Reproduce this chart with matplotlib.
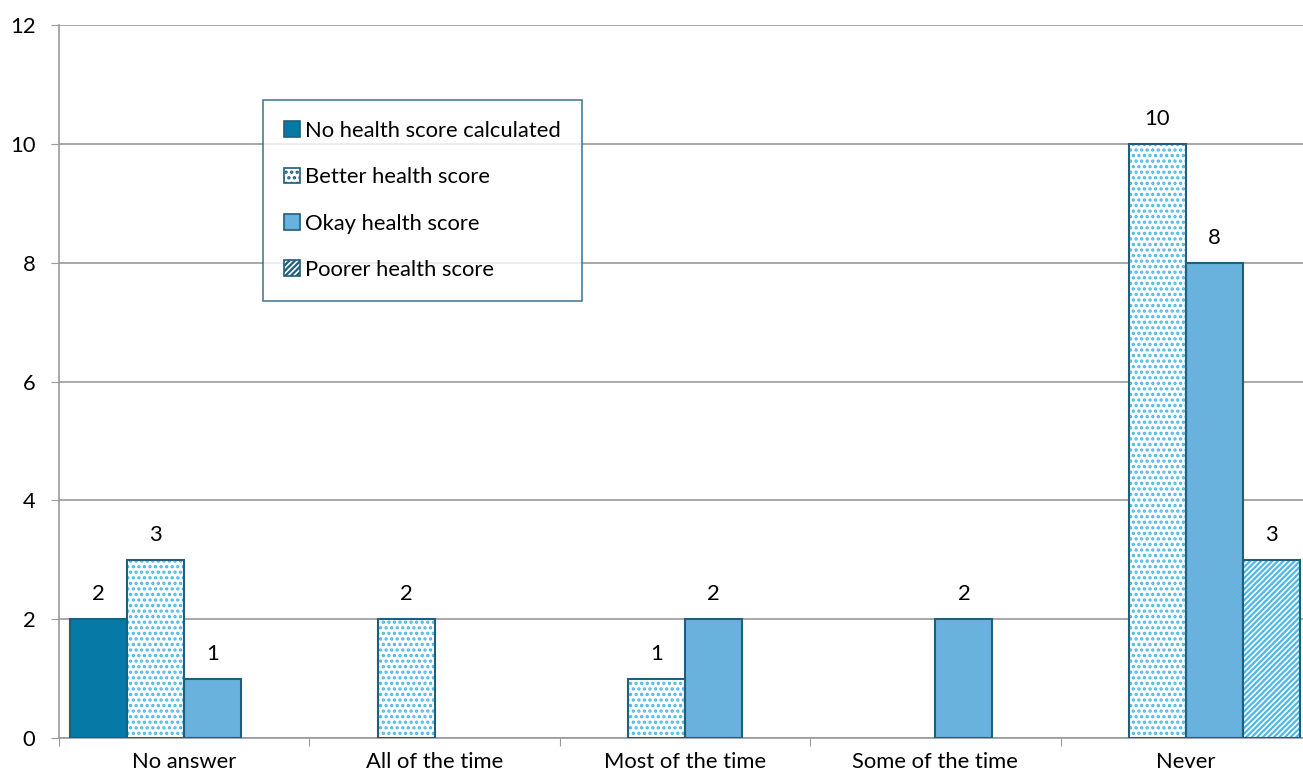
import matplotlib
matplotlib.use('Agg')
import matplotlib.pyplot as plt
import numpy as np

plt.rcParams['font.family'] = ['Lato', 'DejaVu Sans']
plt.rcParams['hatch.linewidth'] = 1.6

categories = ['No answer', 'All of the time', 'Most of the time', 'Some of the time', 'Never']
series = ['No health score calculated', 'Better health score',
          'Okay health score', 'Poorer health score']
no_score = [2, 0, 0, 0, 0]
better = [3, 2, 1, 0, 10]
okay = [1, 0, 2, 2, 8]
poorer = [0, 0, 0, 0, 3]
y_ticks = [0, 2, 4, 6, 8, 10, 12]

EDGE = '#1d5f7c'
DARK = '#0779a6'
MID = '#6ab2de'
DOT = '#4cb8e8'
GRID = '#9a9a9a'
FS = 15.8

fig = plt.figure(figsize=(13.03, 7.78), dpi=100, facecolor='white')
ax = fig.add_axes([59 / 1303, 1 - 738 / 778, (1311 - 59) / 1303, (738 - 25) / 778])

x = np.arange(len(categories))
w = 0.228
styles = [
    dict(face=DARK, hatch=None),
    dict(face='white', hatch='...'),
    dict(face=MID, hatch=None),
    dict(face='white', hatch='//////'),
]
handles = []
for i, (vals, st) in enumerate(zip([no_score, better, okay, poorer], styles)):
    vals = np.array(vals, dtype=float)
    pos = x + (i - 1.5) * w
    m = vals > 0
    if st['hatch']:
        ax.bar(pos[m], vals[m], width=w, color='white', edgecolor=DOT,
               hatch=st['hatch'], linewidth=0, zorder=3)
        ax.bar(pos[m], vals[m], width=w, fill=False, edgecolor=EDGE,
               linewidth=1.5, zorder=4)
    else:
        ax.bar(pos[m], vals[m], width=w, color=st['face'], edgecolor=EDGE,
               linewidth=1.5, zorder=3)
    for p, v in zip(pos[m], vals[m]):
        ax.text(p, v + 0.25, f'{int(v)}', ha='center', va='bottom',
                fontsize=FS, color='black')
    h = plt.Rectangle((0, 0), 1, 1, facecolor=st['face'] if not st['hatch'] else 'white',
                      edgecolor=EDGE, linewidth=1.2, hatch=st['hatch'])
    handles.append(h)

ax.set_xlim(-0.5, len(categories) - 0.5)
ax.set_ylim(0, 12)
ax.set_yticks(y_ticks)
ax.set_yticklabels([str(t) for t in y_ticks], fontsize=FS)
ax.set_xticks(np.arange(len(categories) + 1) - 0.5)
ax.set_xticklabels([])
ax.set_xticks(x, minor=True)
ax.set_xticklabels(categories, minor=True, fontsize=FS)
ax.tick_params(axis='x', which='minor', length=0, pad=10)
ax.tick_params(axis='x', which='major', length=6, color=GRID, direction='out')
ax.tick_params(axis='y', length=6, color=GRID, direction='out', pad=11)

ax.yaxis.grid(True, color=GRID, linewidth=1.2, zorder=0)
ax.set_axisbelow(True)
for s in ['top', 'right']:
    ax.spines[s].set_visible(False)
for s in ['left', 'bottom']:
    ax.spines[s].set_color(GRID)
    ax.spines[s].set_linewidth(1.2)

leg = ax.legend(handles, series, loc='upper left',
                bbox_to_anchor=((263 - 59) / 1252, (738 - 100) / 713),
                fontsize=FS, frameon=True, fancybox=False,
                handlelength=0.72, handleheight=0.72, handletextpad=0.25,
                labelspacing=1.2, borderpad=0.95, borderaxespad=0)
leg.get_frame().set_edgecolor(EDGE)
leg.get_frame().set_linewidth(1.2)

plt.savefig('out.png', dpi=100, facecolor='white')
